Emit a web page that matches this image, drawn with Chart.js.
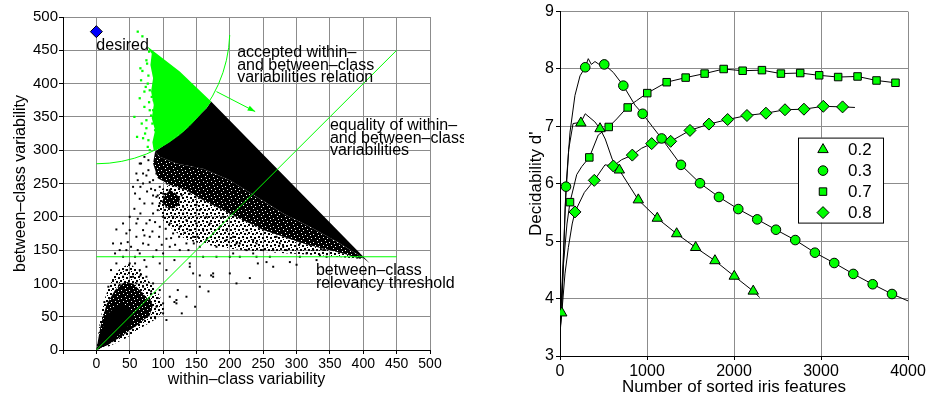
<!DOCTYPE html>
<html>
<head>
<meta charset="utf-8">
<script src="https://cdn.jsdelivr.net/npm/chart.js@4.4.0/dist/chart.umd.min.js"></script>
<style>
    body { margin: 0; background: #fff; }
    .panel { position: absolute; top: 0; width: 464px; height: 398px; }
</style>
</head>
<body>
<div class="panel" style="left:0"><canvas id="variability-chart" width="464" height="398"></canvas></div>
<div class="panel" style="left:464px"><canvas id="decidability-chart" width="464" height="398"></canvas></div>
<script>
    "use strict";

    // ---------- left panel data (within / between class variability) ----------
    var desiredPoint = [[0, 478]];
    var acceptRadius = 200;
    var equalityLine = [[0, 0], [450, 450]];
    var thresholdLine = [[0, 140], [450, 140]];
    var relationArrow = [[180, 388], [238, 358]];

    // outlines of the areas where the points are too many to be told apart
    var acceptedRegion = [[76, 456], [125, 418], [172, 373], [165, 363], [150, 348], [130, 328], [110, 313],
        [95, 303], [86, 299], [84, 312], [88, 330], [83, 348], [86, 368], [82, 388], [85, 408], [81, 428],
        [83, 445], [76, 456]];
    var denseRegion = [[172, 373], [405, 135], [410, 130], [400, 138], [360, 163], [320, 185], [280, 205],
        [240, 230], [200, 255], [160, 272], [120, 280], [95, 290], [88, 298], [95, 303], [110, 313],
        [130, 328], [150, 348], [165, 363], [172, 373]];
    var speckledRegion = [[88, 298], [95, 290], [120, 280], [160, 272], [200, 255], [240, 230], [280, 205],
        [320, 185], [360, 163], [400, 138], [395, 137], [370, 145], [340, 152], [310, 160], [280, 170],
        [250, 180], [220, 195], [190, 210], [160, 225], [135, 240], [110, 248], [92, 258], [85, 280], [88, 298]];
    var mediumRegion = [[110, 248], [135, 240], [160, 225], [190, 210], [220, 195], [250, 180], [280, 170],
        [310, 160], [340, 152], [370, 145], [395, 137], [380, 138], [340, 142], [290, 145], [240, 148],
        [200, 152], [165, 158], [135, 165], [115, 180], [100, 195], [92, 215], [95, 240], [110, 248]];
    var blobRegion = [[98, 222], [103, 233], [110, 240], [118, 236], [125, 228], [124, 218], [116, 212],
        [106, 214], [98, 222]];
    var originCore = [[0, 0], [8, 30], [18, 55], [32, 68], [48, 65], [58, 50], [45, 32], [25, 15], [0, 0]];
    var originSpeckled = [[0, 0], [6, 35], [15, 68], [28, 90], [42, 102], [55, 100], [70, 85], [85, 68],
        [80, 52], [62, 38], [40, 22], [18, 8], [0, 0]];
    var originMedium = [[0, 0], [5, 40], [12, 75], [22, 105], [35, 122], [50, 130], [65, 118], [80, 102],
        [95, 82], [102, 62], [92, 48], [70, 35], [45, 18], [20, 6], [0, 0]];

    var acceptedPoints = [[62, 478], [69, 471], [66, 423], [69, 419], [67, 405], [72, 388], [65, 378], [57, 350],
        [61, 320], [75, 345], [70, 318], [77, 305], [75, 333], [80, 360], [72, 365], [77, 400], [75, 435],
        [88, 330], [90, 355], [86, 375], [92, 385], [84, 340], [78, 315], [88, 312], [91, 338], [85, 360],
        [80, 390], [76, 430], [79, 448], [83, 380], [87, 402], [82, 352], [93, 362], [90, 322], [78, 412],
        [74, 395], [79, 372], [73, 325], [68, 340], [80, 300]];

    var scatteredPoints = [[10, 60], [12, 72], [18, 95], [22, 120], [25, 105], [30, 130], [30, 181], [32, 92],
        [37, 160], [40, 140], [40, 110], [45, 150], [45, 120], [47, 162], [50, 180], [50, 130], [52, 155],
        [55, 110], [57, 212], [58, 140], [60, 170], [60, 100], [62, 197], [65, 120], [65, 227], [67, 280],
        [68, 85], [70, 250], [72, 135], [75, 110], [75, 262], [75, 190], [78, 55], [80, 75], [82, 242],
        [85, 100], [85, 205], [88, 48], [90, 150], [90, 65], [95, 185], [95, 130], [95, 90], [100, 55],
        [105, 167], [105, 120], [110, 80], [115, 175], [117, 135], [117, 72], [120, 70], [122, 90], [125, 150],
        [135, 160], [140, 130], [145, 115], [145, 170], [155, 155], [155, 112], [165, 165], [172, 112],
        [175, 175], [175, 110], [155, 95], [135, 80], [120, 75], [185, 185], [195, 180], [205, 170],
        [215, 160], [225, 180], [235, 165], [240, 200], [215, 140], [242, 130], [200, 140], [235, 145],
        [260, 140], [285, 150], [315, 145], [335, 165], [350, 155], [305, 165], [275, 160], [240, 160],
        [210, 160], [180, 155], [160, 140], [140, 125], [175, 115], [200, 115], [255, 132], [290, 132],
        [305, 140], [335, 142], [325, 150], [240, 140], [205, 145], [180, 140], [195, 165], [280, 155],
        [305, 160], [355, 160], [375, 150], [385, 145], [145, 225], [155, 210], [165, 200], [135, 195],
        [125, 185], [115, 200], [180, 230], [195, 215], [210, 225], [225, 215], [120, 270], [135, 260],
        [155, 255], [150, 275], [265, 125], [300, 128], [330, 135], [345, 140], [230, 108], [210, 100],
        [168, 88], [148, 65], [128, 55], [105, 45], [62, 150], [70, 160], [80, 170], [100, 200], [110, 190],
        [90, 230], [85, 255], [78, 270], [65, 280], [70, 265], [58, 130], [66, 112], [48, 100], [35, 98],
        [28, 80], [42, 75], [55, 82], [20, 60], [15, 40], [70, 95], [82, 88], [92, 78], [100, 70],
        [65, 145], [75, 125], [85, 140], [100, 145], [110, 155], [70, 180], [80, 195], [92, 210], [105, 215],
        [130, 205], [140, 180], [150, 190], [160, 180], [170, 190], [190, 200], [220, 195], [250, 185],
        [270, 170], [295, 170], [320, 158], [340, 150], [365, 148], [250, 150], [265, 150], [225, 150],
        [90, 265], [95, 245], [102, 258], [110, 240], [118, 250], [128, 232], [98, 275], [88, 285],
        [108, 265], [78, 285], [72, 290], [85, 232], [95, 220], [130, 215], [140, 235], [150, 218],
        [58, 235], [62, 255], [66, 245], [72, 220], [76, 238], [80, 252], [84, 220], [88, 240], [92, 232],
        [96, 265], [60, 190], [66, 205], [72, 172], [78, 158], [84, 178], [88, 192], [94, 170], [98, 158],
        [104, 182], [112, 168], [118, 158], [124, 170], [132, 176], [138, 150], [146, 160], [152, 170],
        [100, 235], [106, 250], [60, 265], [55, 245], [50, 200], [45, 175], [40, 190], [35, 150],
        [28, 145], [25, 160]];

    // ---------- right panel data (decidability vs sorted features) ----------
    var seriesLabels = ['0.2', '0.3', '0.7', '0.8'];

    var curve02 = [[0, 3.39], [20, 3.75], [60, 5.6], [100, 6.6], [150, 7.05], [240, 7.07], [290, 7.22],
        [345, 7.15], [400, 7.08], [460, 6.96], [520, 6.78], [600, 6.43], [682, 6.24], [900, 5.72],
        [1118, 5.40], [1341, 5.13], [1559, 4.89], [1781, 4.66], [2003, 4.39], [2221, 4.13], [2295, 4.02]];
    var curve03 = [[0, 3.45], [40, 4.8], [69, 5.95], [115, 6.9], [172, 7.54], [230, 7.88], [290, 8.03],
        [325, 8.18], [360, 8.08], [402, 8.13], [450, 8.08], [509, 8.08], [613, 7.94], [728, 7.71],
        [862, 7.37], [950, 7.22], [1060, 7.0], [1168, 6.79], [1390, 6.33], [1609, 6.01], [1827, 5.77],
        [2049, 5.56], [2267, 5.38], [2482, 5.20], [2704, 5.02], [2930, 4.80], [3152, 4.62], [3371, 4.43],
        [3594, 4.25], [3816, 4.08], [4000, 3.96]];
    var curve07 = [[0, 3.5], [40, 4.6], [80, 5.3], [115, 5.68], [192, 6.16], [250, 6.3], [337, 6.46],
        [440, 6.85], [560, 6.99], [652, 7.13], [778, 7.34], [881, 7.45], [1003, 7.58], [1226, 7.77],
        [1444, 7.85], [1662, 7.92], [1881, 8.00], [2099, 7.97], [2321, 7.98], [2539, 7.92], [2761, 7.93],
        [2979, 7.89], [3197, 7.86], [3420, 7.87], [3638, 7.80], [3856, 7.76]];
    var curve08 = [[0, 3.45], [20, 3.74], [57, 4.43], [96, 4.89], [140, 5.3], [172, 5.51], [280, 5.85],
        [394, 6.06], [517, 6.33], [613, 6.31], [709, 6.42], [831, 6.50], [939, 6.62], [1054, 6.70],
        [1272, 6.74], [1494, 6.93], [1712, 7.04], [1927, 7.12], [2149, 7.19], [2367, 7.23], [2586, 7.29],
        [2804, 7.30], [3026, 7.35], [3248, 7.34], [3390, 7.33]];

    var features02 = [20, 240, 460, 682, 900, 1118, 1341, 1559, 1781, 2003, 2221];
    var markers02 = [3.75, 7.06, 6.96, 6.24, 5.72, 5.40, 5.13, 4.89, 4.66, 4.39, 4.13];
    var features03 = [69, 290, 509, 728, 950, 1168, 1390, 1609, 1827, 2049, 2267, 2482, 2704, 2930, 3152, 3371, 3594, 3816];
    var markers03 = [5.95, 8.03, 8.08, 7.71, 7.22, 6.79, 6.33, 6.01, 5.77, 5.56, 5.38, 5.20, 5.02, 4.80, 4.62, 4.43, 4.25, 4.08];
    var features07 = [115, 337, 560, 778, 1003, 1226, 1444, 1662, 1881, 2099, 2321, 2539, 2761, 2979, 3197, 3420, 3638, 3856];
    var markers07 = [5.68, 6.46, 6.99, 7.33, 7.58, 7.77, 7.85, 7.92, 8.00, 7.97, 7.98, 7.92, 7.93, 7.89, 7.86, 7.87, 7.80, 7.76];
    var features08 = [172, 394, 613, 831, 1054, 1272, 1494, 1712, 1927, 2149, 2367, 2586, 2804, 3026, 3248];
    var markers08 = [5.51, 6.06, 6.31, 6.50, 6.70, 6.74, 6.93, 7.04, 7.12, 7.19, 7.23, 7.29, 7.30, 7.35, 7.34];


    Chart.defaults.font.family = '"Liberation Sans", Arial, sans-serif';
    Chart.defaults.color = '#000';

    var GREEN = '#00ff00';
    var GRID = '#8c8c8c';

    function toXY(pairs) {
        return pairs.map(function (p) { return {x: p[0], y: p[1]}; });
    }
    function zip(xs, ys) {
        return xs.map(function (x, i) { return {x: x, y: ys[i]}; });
    }
    function gridOpts() {
        return {
            color: GRID, borderDash: [1, 3], lineWidth: 1,
            drawTicks: true, tickLength: 4, tickColor: '#000', tickBorderDash: [], tickWidth: 1
        };
    }

    // Small repeating dot textures, so the crowded areas look like many points
    function dotTexture(base, dots, white) {
        var c = document.createElement('canvas');
        c.width = 8;
        c.height = 8;
        var g = c.getContext('2d');
        if (base) {
            g.fillStyle = '#000';
            g.fillRect(0, 0, 8, 8);
        }
        g.fillStyle = white ? '#fff' : '#000';
        dots.forEach(function (d) { g.fillRect(d[0], d[1], d[2], d[2]); });
        return g.createPattern(c, 'repeat');
    }
    var speckleFill = dotTexture(true, [[1, 2, 1], [5, 0, 1], [3, 5, 1], [7, 6, 1], [6, 3, 1]], true);
    var mediumFill = dotTexture(false, [[0, 0, 2], [4, 1, 2], [2, 4, 2], [6, 5, 2], [7, 2, 1], [3, 7, 1]], false);

    function polygon(label, pairs, fillColor, order) {
        return {
            type: 'line', label: label, data: toXY(pairs), fill: 'shape',
            backgroundColor: fillColor, borderColor: 'rgba(0,0,0,0)', borderWidth: 0,
            pointRadius: 0, tension: 0, order: order
        };
    }


    // Annotations of the left panel: acceptance arc, arrow and texts
    var leftNotes = {
        id: 'leftNotes',
        afterDatasetsDraw: function (chart) {
            var ctx = chart.ctx, xs = chart.scales.x, ys = chart.scales.y;
            var px = function (v) { return xs.getPixelForValue(v); };
            var py = function (v) { return ys.getPixelForValue(v); };
            ctx.save();

            // arc of accepted relation around the desired point
            var cx = px(desiredPoint[0][0]), cy = py(desiredPoint[0][1] + 2);
            var r = px(acceptRadius) - px(0);
            ctx.strokeStyle = GREEN;
            ctx.lineWidth = 1;
            ctx.beginPath();
            ctx.arc(cx, cy, r, Math.PI / 2, Math.PI / 90, true);
            ctx.stroke();

            // arrow
            var x1 = px(relationArrow[0][0]), y1 = py(relationArrow[0][1]);
            var x2 = px(relationArrow[1][0]), y2 = py(relationArrow[1][1]);
            var ang = Math.atan2(y2 - y1, x2 - x1);
            ctx.beginPath();
            ctx.moveTo(x1, y1);
            ctx.lineTo(x2, y2);
            ctx.stroke();
            ctx.fillStyle = GREEN;
            ctx.beginPath();
            ctx.moveTo(x2, y2);
            ctx.lineTo(x2 - 8 * Math.cos(ang - 0.35), y2 - 8 * Math.sin(ang - 0.35));
            ctx.lineTo(x2 - 8 * Math.cos(ang + 0.35), y2 - 8 * Math.sin(ang + 0.35));
            ctx.closePath();
            ctx.fill();

            // texts
            ctx.fillStyle = '#000';
            ctx.font = '16px "Liberation Sans", Arial, sans-serif';
            ctx.textAlign = 'left';
            ctx.textBaseline = 'alphabetic';
            var notes = [
                {at: [0, 450], lines: ['desired']},
                {at: [211, 440], lines: ['accepted within\u2013', 'and between\u2013class', 'variabilities relation']},
                {at: [350, 330], lines: ['equality of within\u2013', 'and between\u2013class', 'variabilities']},
                {at: [329, 112], lines: ['between\u2013class', 'relevancy threshold']}
            ];
            notes.forEach(function (n) {
                n.lines.forEach(function (t, i) {
                    ctx.fillText(t, px(n.at[0]), py(n.at[1]) + i * 12.6);
                });
            });
            ctx.restore();
        }
    };

    new Chart(document.getElementById('variability-chart'), {
        type: 'scatter',
        data: {
            datasets: [
                {label: 'desired', data: toXY(desiredPoint), pointStyle: 'rectRot', pointRadius: 6,
                    backgroundColor: '#0000ff', borderColor: '#000', borderWidth: 1, order: 0},
                {type: 'line', label: 'equality', data: toXY(equalityLine), borderColor: GREEN, borderWidth: 1,
                    pointRadius: 0, fill: false, order: 1},
                {type: 'line', label: 'threshold', data: toXY(thresholdLine), borderColor: GREEN, borderWidth: 1,
                    pointRadius: 0, fill: false, order: 1},
                {label: 'accepted', data: toXY(acceptedPoints), pointStyle: 'rect', pointRadius: 1.6,
                    backgroundColor: GREEN, borderWidth: 0, order: 3},
                polygon('accepted region', acceptedRegion, GREEN, 4),
                polygon('dense', denseRegion, '#000', 6),
                polygon('origin core', originCore, '#000', 6),
                polygon('blob', blobRegion, speckleFill, 6),
                polygon('speckled', speckledRegion, speckleFill, 7),
                polygon('origin speckled', originSpeckled, speckleFill, 7),
                polygon('medium', mediumRegion, mediumFill, 8),
                polygon('origin medium', originMedium, mediumFill, 8),
                {label: 'features', data: toXY(scatteredPoints), pointStyle: 'rect', pointRadius: 1.4,
                    backgroundColor: '#000', borderWidth: 0, order: 9}
            ]
        },
        options: {
            responsive: false,
            animation: false,
            events: [],
            layout: {padding: {top: 17, right: 34, left: 0, bottom: 0}},
            plugins: {legend: {display: false}, tooltip: {enabled: false}},
            scales: {
                x: {
                    type: 'linear', min: -50, max: 500,
                    ticks: {stepSize: 50, autoSkip: false, maxRotation: 0, padding: 2, font: {size: 14},
                        callback: function (v) { return v < 0 ? '' : String(v); }},
                    grid: gridOpts(),
                    border: {display: true, color: '#000', width: 1},
                    title: {display: true, text: 'within\u2013class variability', font: {size: 16}, padding: {top: 0, bottom: 9}},
                    afterFit: function (s) { s.height = 48; }
                },
                y: {
                    type: 'linear', min: 0, max: 500,
                    ticks: {stepSize: 50, autoSkip: false, padding: 1, font: {size: 15}},
                    grid: gridOpts(),
                    border: {display: true, color: '#000', width: 1},
                    title: {display: true, text: 'between\u2013class variability', font: {size: 16}, padding: {top: 11, bottom: 0}},
                    afterFit: function (s) { s.width = 63; }
                }
            }
        },
        plugins: [leftNotes]
    });


    // Legend of the right panel, drawn inside the plot area
    var legendBox = {
        id: 'legendBox',
        afterDraw: function (chart) {
            var ctx = chart.ctx, area = chart.chartArea;
            var left = area.right - 110, top = area.top + 126, w = 85, h = 85;
            ctx.save();
            ctx.fillStyle = '#fff';
            ctx.fillRect(left, top, w, h);
            ctx.strokeStyle = '#000';
            ctx.lineWidth = 1;
            ctx.strokeRect(left + 0.5, top + 0.5, w, h);
            ctx.font = '17px "Liberation Sans", Arial, sans-serif';
            ctx.textBaseline = 'middle';
            ctx.textAlign = 'left';
            var markerSets = chart.data.datasets.filter(function (d) { return d.isMarker; });
            markerSets.forEach(function (d, i) {
                var y = top + 12 + i * 21;
                ctx.fillStyle = GREEN;
                ctx.strokeStyle = '#000';
                ctx.lineWidth = 1;
                Chart.helpers.drawPoint(ctx, {pointStyle: d.pointStyle, radius: d.pointRadius, rotation: 0, borderWidth: 1}, left + 25, y);
                ctx.fillStyle = '#000';
                ctx.fillText(d.label, left + 50, y + 1);
            });
            ctx.restore();
        }
    };

    function curve(pairs) {
        return {type: 'line', data: toXY(pairs), borderColor: '#000', borderWidth: 1, pointRadius: 0,
            fill: false, tension: 0, order: 2};
    }
    function markers(label, xs, ys, style, radius) {
        return {label: label, data: zip(xs, ys), isMarker: true, pointStyle: style, pointRadius: radius,
            backgroundColor: GREEN, borderColor: '#000', borderWidth: 1, order: 1};
    }

    new Chart(document.getElementById('decidability-chart'), {
        type: 'scatter',
        data: {
            datasets: [
                curve(curve02), curve(curve03), curve(curve07), curve(curve08),
                markers(seriesLabels[0], features02, markers02, 'triangle', 6),
                markers(seriesLabels[1], features03, markers03, 'circle', 4.8),
                markers(seriesLabels[2], features07, markers07, 'rect', 5.3),
                markers(seriesLabels[3], features08, markers08, 'rectRot', 6)
            ]
        },
        options: {
            responsive: false,
            animation: false,
            events: [],
            layout: {padding: {top: 9, right: 20, left: 0, bottom: 0}},
            plugins: {legend: {display: false}, tooltip: {enabled: false}},
            scales: {
                x: {
                    type: 'linear', min: 0, max: 4000,
                    ticks: {stepSize: 1000, autoSkip: false, maxRotation: 0, padding: 2, font: {size: 16},
                        callback: function (v) { return String(v); }},
                    grid: gridOpts(),
                    border: {display: true, color: '#000', width: 1},
                    title: {display: true, text: 'Number of sorted iris features', font: {size: 17}, padding: {top: 0, bottom: 0}},
                    afterFit: function (s) { s.height = 42; }
                },
                y: {
                    type: 'linear', min: 3, max: 9,
                    ticks: {stepSize: 1, autoSkip: false, padding: 2, font: {size: 16}},
                    grid: gridOpts(),
                    border: {display: true, color: '#000', width: 1},
                    title: {display: true, text: "Decidability d'", font: {size: 17}, padding: {top: 62, bottom: 0}},
                    afterFit: function (s) { s.width = 96; }
                }
            }
        },
        plugins: [legendBox]
    });
</script>
</body>
</html>
